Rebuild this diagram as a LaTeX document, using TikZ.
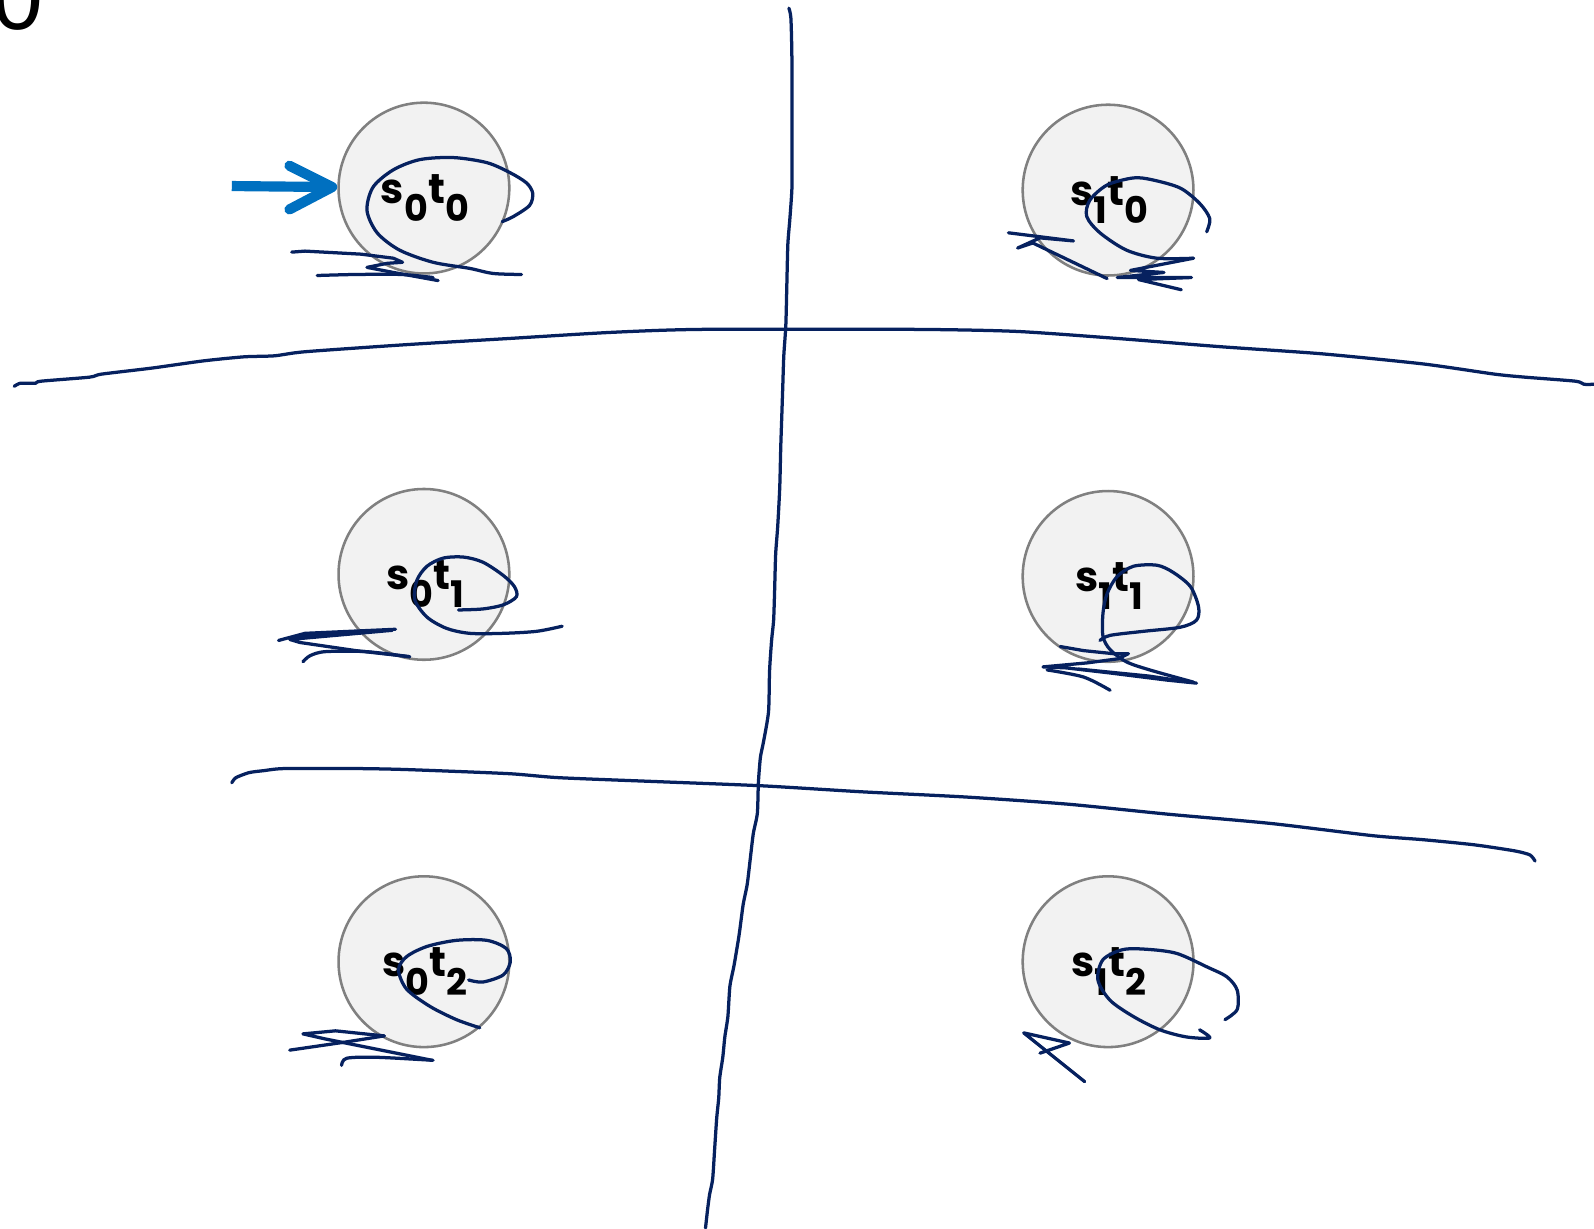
\documentclass[tikz,border=0pt]{standalone}
\usepackage{fontspec}
\usetikzlibrary{calc}
\newfontfamily\labfont{Poppins}
\newfontfamily\bigfont{Liberation Sans}
\definecolor{ink}{HTML}{06215F}
\definecolor{arrowblue}{HTML}{0070C0}
\definecolor{stfill}{HTML}{F2F2F2}
\definecolor{stline}{HTML}{808080}
\newcommand{\stlab}[2]{{\labfont\bfseries\fontsize{41}{41}\selectfont s\lower18pt\hbox{\fontsize{36}{36}\selectfont #1}t\lower18pt\hbox{\fontsize{36}{36}\selectfont #2}}}
\begin{document}
\begin{tikzpicture}[x=1pt,y=-1pt,
  statenode/.style={circle,draw=stline,fill=stfill,line width=2.5pt,minimum size=168pt,inner sep=0pt},
  labnode/.style={anchor=base,inner sep=0pt},
  inkline/.style={draw=ink,line width=3.2pt,line cap=round,line join=round},
  entry/.style={draw=arrowblue,line width=10pt},
  entryhead/.style={draw=arrowblue,line width=10pt,line cap=round,line join=round}]
\useasboundingbox (0,0) rectangle (1568,1208);
\fill[white] (0,0) rectangle (1568,1208);
% fragment of large digit
\node[anchor=base,inner sep=0pt] (zero) at (18,29) {\bigfont\fontsize{90}{90}\selectfont 0};
% states
\node[statenode] (s00) at (417,185) {};
\node[statenode] (s10) at (1090,187) {};
\node[statenode] (s01) at (417,565) {};
\node[statenode] (s11) at (1090,567) {};
\node[statenode] (s02) at (417,946) {};
\node[statenode] (s12) at (1090,946) {};
\node[labnode] (l00) at (418,200) {\stlab{0}{0}};
\node[labnode] (l10) at (1091,202) {\stlab{1}{0}};
\node[labnode] (l01) at (418,580) {\stlab{0}{1}};
\node[labnode] (l11) at (1091,582) {\stlab{1}{1}};
\node[labnode] (l02) at (418,961) {\stlab{0}{2}};
\node[labnode] (l12) at (1091,961) {\stlab{1}{2}};
% entry arrow
\coordinate (entrystart) at (228,183);
\coordinate (entrytip) at ($(s00.west)+(-5,-1)$);
\draw[entry] (entrystart) -- (entrytip);
\draw[entryhead] ($(entrytip)+(-42,-21)$) -- (entrytip) -- ($(entrytip)+(-42,22)$);
% grid strokes
\draw[inkline] plot[smooth,tension=0.4] coordinates {(776,8) (778,18) (779,60) (779,150) (779,185) (777,215) (775,240) (774,280) (773,320) (771,350) (770,380) (769,410) (768,440) (767,480) (765,518) (763,545) (762,580) (761,610) (759,630) (757,660) (756,700) (751,730) (748,745) (746,770) (745,800) (741,820) (738,845) (735,870) (731,890) (727,920) (722,950) (718,970) (716,1000) (713,1020) (711,1040) (708,1060) (707,1080) (705,1100) (703,1130) (701,1160) (698,1175) (696,1190) (694,1208)};
\draw[inkline] plot[smooth,tension=0.4] coordinates {(14,380) (20,377) (35,377) (40,375) (88,371) (100,368) (150,362) (200,355) (240,351) (270,350) (300,346) (400,339) (500,333) (600,327) (690,324) (900,324) (1000,326) (1100,333) (1200,341) (1300,348) (1400,358) (1470,368) (1500,371) (1550,375) (1558,378) (1568,378)};
\draw[inkline] plot[smooth,tension=0.4] coordinates {(228,770) (232,765) (245,760) (260,758) (280,756) (350,756) (400,757) (500,761) (550,765) (650,769) (750,773) (850,779) (950,784) (1050,791) (1150,801) (1250,810) (1350,822) (1400,826) (1450,831) (1490,837) (1505,841) (1510,847)};
% s0t0 scribbles
\draw[inkline] plot[smooth,tension=0.5] coordinates {(494,218) (505,213) (521,202) (524,190) (518,180) (502,170) (479,160) (446,155) (413,157) (387,167) (367,184) (361,207) (371,229) (393,246) (426,258) (462,264) (485,269) (513,270)};
\draw[inkline] plot[tension=0.5] coordinates {(287,248) (300,247) (355,250) (387,254) (396,258) (381,259) (361,263) (387,268) (431,276)};
\draw[inkline] plot[smooth,tension=0.5] coordinates {(312,271) (350,270) (395,270) (426,273)};
% s1t0 scribbles
\draw[inkline] plot[smooth,tension=0.5] coordinates {(1187,228) (1190,215) (1180,200) (1161,185) (1134,177) (1115,175) (1089,182) (1072,197) (1069,213) (1082,229) (1108,246) (1138,254) (1174,254)};
\draw[inkline] plot coordinates {(992,229) (1056,237) (1023,234) (1001,244) (1016,239) (1089,274)};
\draw[inkline] plot coordinates {(1174,254) (1112,266) (1145,268) (1099,273) (1172,273) (1120,275) (1162,285)};
% s0t1 scribbles
\draw[inkline] plot[smooth,tension=0.5] coordinates {(451,600) (475,599) (495,595) (508,587) (506,577) (495,566) (475,553) (456,548) (436,549) (420,557) (410,571) (408,590) (420,607) (439,618) (462,623) (495,623) (528,621) (553,616)};
\draw[inkline] plot coordinates {(389,619) (300,623) (274,630) (285,627) (330,625) (386,620) (285,629) (295,632) (350,640) (403,646)};
\draw[inkline] plot[smooth,tension=0.5] coordinates {(298,651) (305,645) (320,641) (360,641) (403,646)};
% s1t1 scribbles
\draw[inkline] plot[smooth,tension=0.5] coordinates {(1082,630) (1092,625) (1125,621) (1161,617) (1177,610) (1179,597) (1171,577) (1154,563) (1138,556) (1115,557) (1099,567) (1089,584) (1085,603) (1085,626) (1092,639) (1108,651) (1131,659) (1174,671)};
\draw[inkline] plot coordinates {(1043,636) (1066,640) (1095,643) (1110,643) (1100,648) (1070,652) (1026,656) (1049,657) (1092,662) (1148,669) (1177,672) (1130,665) (1060,658)};
\draw[inkline] plot[smooth,tension=0.5] coordinates {(1030,659) (1066,666) (1092,679)};
% s0t2 scribbles
\draw[inkline] plot[smooth,tension=0.5] coordinates {(461,964) (475,966) (495,959) (502,946) (498,933) (479,925) (449,925) (420,931) (400,941) (392,954) (400,973) (423,990) (449,1003) (472,1011)};
\draw[inkline] plot coordinates {(378,1019) (330,1014) (298,1017) (320,1022) (425,1043)};
\draw[inkline] plot coordinates {(378,1019) (340,1025) (285,1033)};
\draw[inkline] plot[smooth,tension=0.5] coordinates {(336,1048) (341,1041) (370,1040) (426,1043)};
% s1t2 scribbles
\draw[inkline] plot[smooth,tension=0.5] coordinates {(1205,1003) (1217,993) (1217,974) (1207,961) (1187,951) (1158,938) (1131,934) (1105,934) (1085,944) (1080,964) (1092,984) (1115,1000) (1141,1013) (1167,1020) (1190,1021) (1180,1013)};
\draw[inkline] plot coordinates {(1023,1036) (1052,1026) (1007,1016) (1067,1064)};
\end{tikzpicture}
\end{document}
